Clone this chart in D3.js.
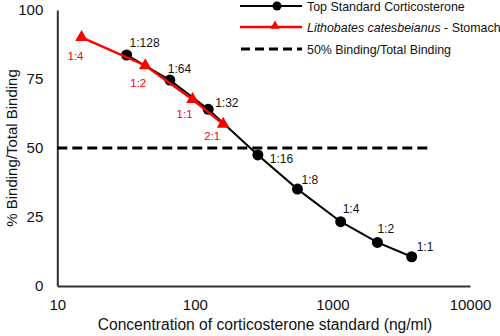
<!DOCTYPE html>
<html>
<head>
	<meta charset="utf-8">
	<script src="https://d3js.org/d3.v7.min.js"></script>
	<style>
	body {margin: 0; background: #fff;}
	text {font-family: Arial, "Liberation Sans", sans-serif;}
	</style>
</head>
<body>
<script>

// standard curve (black) and sample dilutions (red)
var stdConc = [31.9, 65.8, 125, 287, 557, 1148, 2124, 3767];
var stdBinding = [83.7, 74.6, 64.0, 47.5, 35.1, 23.3, 15.8, 10.6];
var stdLabels = ["1:128", "1:64", "1:32", "1:16", "1:8", "1:4", "1:2", "1:1"];

var sampleConc = [15.0, 43.6, 96.2, 160.6];
var sampleBinding = [90.1, 79.9, 67.6, 58.7];
var sampleLabels = ["1:4", "1:2", "1:1", "2:1"];

var xTicks = [10, 100, 1000, 10000];
var yTicks = [0, 25, 50, 75, 100];
var halfBinding = 50;
var halfLineEnd = 5000;

var legendNames = ["Top Standard Corticosterone", "Lithobates catesbeianus", "50% Binding/Total Binding"];

// label offsets, px (layout only)
var stdOffsets = [[3, -8], [-2, -7], [7, -2], [12, 8], [4, -5], [2, -9], [0, -9], [5, -6]];
var sampleOffsets = [[-14, 23], [-15, 22], [-16, 19], [-19, 16]];

var width = 500, height = 336;

var svg = d3.select("body").append("svg")
	.attr("width", width)
	.attr("height", height);

var x = d3.scaleLog().domain([10, 10000]).range([57.3, 470]);
var y = d3.scaleLinear().domain([0, 100]).range([286, 10]);

// axes
var xAxis = svg.append("g")
	.attr("transform", "translate(0," + y(0) + ")")
	.call(d3.axisBottom(x).tickValues(xTicks).tickFormat(d3.format("d")).tickSize(0).tickPadding(13));
var yAxis = svg.append("g")
	.attr("transform", "translate(" + x(10) + ",0)")
	.call(d3.axisLeft(y).tickValues(yTicks).tickSize(0).tickPadding(14));

[xAxis, yAxis].forEach(function(a) {
	a.select(".domain").attr("stroke", "#333").attr("stroke-width", 2);
	a.selectAll("text").attr("font-size", 15).attr("fill", "#111")
		.attr("font-family", "Arial, 'Liberation Sans', sans-serif");
});

// axis titles
svg.append("text")
	.attr("x", 265).attr("y", 330)
	.attr("text-anchor", "middle")
	.attr("font-size", 15.6)
	.attr("fill", "#111")
	.text("Concentration of corticosterone standard (ng/ml)");

svg.append("text")
	.attr("transform", "translate(17," + y(50) + ") rotate(-90)")
	.attr("text-anchor", "middle")
	.attr("font-size", 15)
	.attr("fill", "#111")
	.text("% Binding/Total Binding");

// 50% reference line
svg.append("line")
	.attr("x1", x(10)).attr("x2", x(halfLineEnd))
	.attr("y1", y(halfBinding)).attr("y2", y(halfBinding))
	.attr("stroke", "#000")
	.attr("stroke-width", 3)
	.attr("stroke-dasharray", "10,5");

var line = d3.line();

var stdPts = stdConc.map(function(c, i) { return [x(c), y(stdBinding[i])]; });
var samplePts = sampleConc.map(function(c, i) { return [x(c), y(sampleBinding[i])]; });

// standard curve
svg.append("path")
	.attr("d", line(stdPts))
	.attr("fill", "none")
	.attr("stroke", "#000")
	.attr("stroke-width", 2);

svg.selectAll(".std")
	.data(stdPts)
	.enter()
	.append("circle")
	.attr("class", "std")
	.attr("cx", function(d) { return d[0]; })
	.attr("cy", function(d) { return d[1]; })
	.attr("r", 5.5)
	.attr("fill", "#000");

svg.selectAll(".stdlab")
	.data(stdPts)
	.enter()
	.append("text")
	.attr("class", "stdlab")
	.attr("x", function(d, i) { return d[0] + stdOffsets[i][0]; })
	.attr("y", function(d, i) { return d[1] + stdOffsets[i][1]; })
	.attr("font-size", 12)
	.attr("fill", "#111")
	.text(function(d, i) { return stdLabels[i]; });

// sample dilutions
svg.append("path")
	.attr("d", line(samplePts))
	.attr("fill", "none")
	.attr("stroke", "#f00")
	.attr("stroke-width", 2.5);

var tri = d3.symbol().type(d3.symbolTriangle).size(70);

svg.selectAll(".smp")
	.data(samplePts)
	.enter()
	.append("path")
	.attr("class", "smp")
	.attr("d", tri)
	.attr("transform", function(d) { return "translate(" + d[0] + "," + d[1] + ")"; })
	.attr("fill", "#f00");

svg.selectAll(".smplab")
	.data(samplePts)
	.enter()
	.append("text")
	.attr("class", "smplab")
	.attr("x", function(d, i) { return d[0] + sampleOffsets[i][0]; })
	.attr("y", function(d, i) { return d[1] + sampleOffsets[i][1]; })
	.attr("font-size", 11.5)
	.attr("fill", "#f00")
	.text(function(d, i) { return sampleLabels[i]; });

// legend
var lg = svg.append("g");
var rows = [6, 27, 49];

lg.append("line").attr("x1", 240).attr("x2", 302).attr("y1", rows[0]).attr("y2", rows[0])
	.attr("stroke", "#000").attr("stroke-width", 2);
lg.append("circle").attr("cx", 277).attr("cy", rows[0]).attr("r", 4.5).attr("fill", "#000");

lg.append("line").attr("x1", 240).attr("x2", 302).attr("y1", rows[1]).attr("y2", rows[1])
	.attr("stroke", "#f00").attr("stroke-width", 2.5);
lg.append("path").attr("d", d3.symbol().type(d3.symbolTriangle).size(40))
	.attr("transform", "translate(275," + (rows[1] - 1) + ")").attr("fill", "#f00");

lg.append("line").attr("x1", 241).attr("x2", 302).attr("y1", rows[2]).attr("y2", rows[2])
	.attr("stroke", "#000").attr("stroke-width", 3).attr("stroke-dasharray", "9,5");

lg.append("text").attr("x", 307).attr("y", rows[0] + 4.5).attr("font-size", 12.4).attr("fill", "#111")
	.text(legendNames[0]);
var t2 = lg.append("text").attr("x", 307).attr("y", rows[1] + 4.5).attr("font-size", 12.4).attr("fill", "#111");
t2.append("tspan").attr("font-style", "italic").text(legendNames[1]);
t2.append("tspan").text(" - Stomach");
lg.append("text").attr("x", 307).attr("y", rows[2] + 4.5).attr("font-size", 12.4).attr("fill", "#111")
	.text(legendNames[2]);

</script>
</body>
</html>
